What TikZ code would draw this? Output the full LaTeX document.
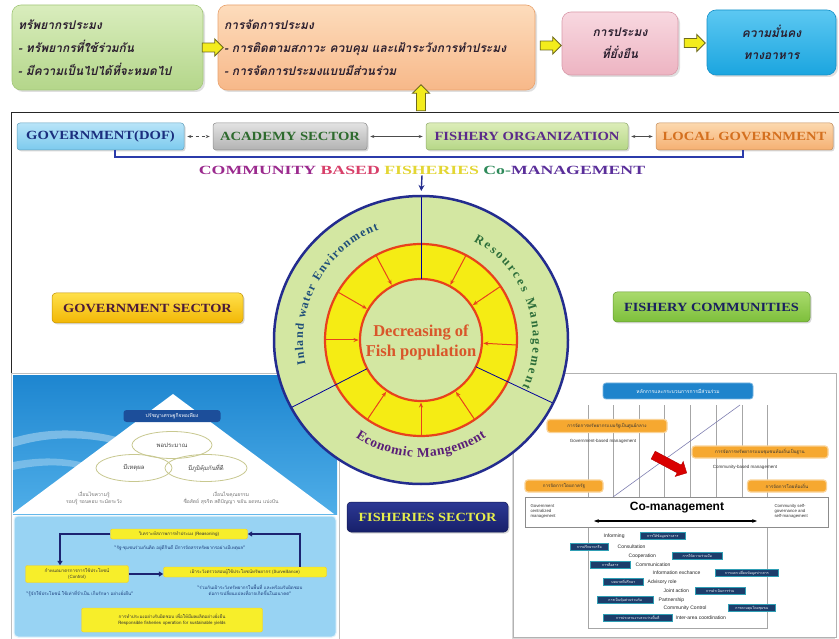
\documentclass[tikz,border=0pt]{standalone}
\usepackage{fontspec}
\setmainfont{Liberation Serif}
\newfontfamily\thai[Script=Thai]{Loma}
\newfontfamily\thaisl[Script=Thai,FakeSlant=0.22]{Loma}
\newfontfamily\lsans{Liberation Sans}
\usetikzlibrary{shapes.geometric,shapes.arrows,arrows.meta,shadows,decorations.text,calc}
\definecolor{bAt}{HTML}{D9EDBD}\definecolor{bAb}{HTML}{B4D68A}\definecolor{bAd}{HTML}{A3C77A}
\definecolor{bBt}{HTML}{FDDCBC}\definecolor{bBb}{HTML}{F7B889}\definecolor{bBd}{HTML}{E9A26D}
\definecolor{bCt}{HTML}{F8D8E0}\definecolor{bCb}{HTML}{EDB4C2}\definecolor{bCd}{HTML}{D99AAA}
\definecolor{bDt}{HTML}{5CC8F2}\definecolor{bDb}{HTML}{1BA5DF}\definecolor{bDd}{HTML}{1590C8}
\definecolor{tdark}{HTML}{2A1E2E}
\definecolor{ayel}{HTML}{F3EC1C}\definecolor{aedge}{HTML}{6E6A1E}
\definecolor{sAt}{HTML}{B8E4F8}\definecolor{sAb}{HTML}{7CCAEE}\definecolor{sAx}{HTML}{1B2F7E}
\definecolor{sBt}{HTML}{E2E2E2}\definecolor{sBb}{HTML}{B2B2B2}\definecolor{sBx}{HTML}{2E6B2E}
\definecolor{sCt}{HTML}{DCEDB8}\definecolor{sCb}{HTML}{B6D787}\definecolor{sCx}{HTML}{5B2A8A}
\definecolor{sDt}{HTML}{FCD8AE}\definecolor{sDb}{HTML}{F5B072}\definecolor{sDx}{HTML}{D4701F}
\definecolor{brblue}{HTML}{2B3BAA}\definecolor{navy}{HTML}{232C8E}
\definecolor{cA}{HTML}{9B2A8E}\definecolor{cB}{HTML}{D8406A}\definecolor{cC}{HTML}{E3D634}\definecolor{cD}{HTML}{2E8A5A}\definecolor{cE}{HTML}{5A2E9A}
\definecolor{cgreen}{HTML}{D3E7A2}\definecolor{ringy}{HTML}{F5EC14}\definecolor{ringr}{HTML}{E8421C}
\definecolor{envc}{HTML}{1F4E79}\definecolor{resc}{HTML}{2D6E3A}\definecolor{ecoc}{HTML}{5A1E78}\definecolor{ctr}{HTML}{D9562A}
\definecolor{gyt}{HTML}{FFE04A}\definecolor{gyb}{HTML}{F2B705}\definecolor{gyx}{HTML}{4A1A3A}
\definecolor{fct}{HTML}{A9DA6C}\definecolor{fcb}{HTML}{7DBF3B}\definecolor{fcx}{HTML}{1A2060}
\definecolor{fst}{HTML}{2C3894}\definecolor{fsb}{HTML}{17206A}\definecolor{fsx}{HTML}{E6EE4C}
\definecolor{lpA}{HTML}{1E86D0}\definecolor{lpB}{HTML}{4FAEE8}\definecolor{lpl}{HTML}{98D3F3}
\definecolor{dlbl}{HTML}{1C4E9A}\definecolor{olv}{HTML}{C8C890}\definecolor{ylw}{HTML}{F7EE2A}
\definecolor{qtx}{HTML}{1A3A7A}\definecolor{rpt}{HTML}{1F84CC}\definecolor{orl}{HTML}{F6A830}
\definecolor{dlab}{HTML}{1C3D6B}\definecolor{dlabd}{HTML}{2F9FB5}
\begin{document}
\begin{tikzpicture}[x=1pt,y=1pt,
  topbox/.style={rounded corners=9pt, line width=0.6pt, inner sep=6pt,
     drop shadow={opacity=0.25,shadow xshift=2pt,shadow yshift=-2pt}},
  yarrow/.style={single arrow, draw=aedge, fill=ayel, line width=0.9pt, minimum height=21pt,
     minimum width=17pt, inner sep=4pt, single arrow head extend=4pt},
  secbox/.style={rounded corners=3pt, line width=0.5pt, minimum height=27pt, inner sep=2pt,
     font=\bfseries\fontsize{12.5}{12}\selectfont,
     drop shadow={opacity=0.3,shadow xshift=1.5pt,shadow yshift=-1.5pt}},
  lblbox/.style={rounded corners=4pt, line width=0.5pt, minimum height=30pt, inner sep=2pt,
     font=\bfseries\fontsize{12.5}{13}\selectfont,
     drop shadow={opacity=0.3,shadow xshift=1.5pt,shadow yshift=-1.5pt}},
  dbl/.style={{Stealth[length=4pt]}-{Stealth[length=4pt]}, line width=0.8pt, black!70, shorten >=3pt, shorten <=3pt},
  ylbl/.style={fill=ylw, draw=ylw!70!orange, rounded corners=2pt, font=\thai\fontsize{4.5}{6}\selectfont,
     text=black!80, inner sep=1.5pt, align=center},
  qt/.style={font=\thai\fontsize{4.5}{6}\selectfont, text=qtx, align=center},
  narr/.style={-{Triangle[length=4.5pt,width=5pt]}, line width=1.4pt, navy!80!black},
  olbl/.style={fill=orl, draw=orl!50!white, line width=1.2pt, rounded corners=3pt,
     font=\thai\fontsize{4.5}{5}\selectfont, text=black!80, inner sep=1.5pt},
  dlb/.style={fill=dlab, draw=dlabd, line width=0.6pt, text=white, font=\thai\fontsize{3.5}{4}\selectfont,
     inner sep=0.8pt, minimum height=6.5pt, anchor=west},
  wtx/.style={font=\lsans\fontsize{5}{5}\selectfont, text=black!85, anchor=west, inner sep=0.5pt},
  gridl/.style={black!35, line width=0.5pt},
  redarr/.style={-{Stealth[length=5pt,width=4pt]}, ringr, line width=1pt},
  divl/.style={blue!60!black, line width=0.8pt}
]
\useasboundingbox (0,0) rectangle (839,-639);
\fill[white] (0,0) rectangle (839,-639);

% ---------- top row ----------
\node[topbox, draw=bAd, top color=bAt, bottom color=bAb, text width=179pt, minimum height=85pt,
  align=left, text=tdark, font=\thaisl\bfseries\fontsize{12}{23}\selectfont] (b1) at (107.5,-47.5)
  {ทรัพยากรประมง\\- ทรัพยากรที่ใช้ร่วมกัน\\- มีความเป็นไปได้ที่จะหมดไป};
\node[topbox, draw=bBd, top color=bBt, bottom color=bBb, text width=305pt, minimum height=85pt,
  align=left, text=tdark, font=\thaisl\bfseries\fontsize{12}{23}\selectfont] (b2) at (376.5,-47.5)
  {การจัดการประมง\\- การติดตามสภาวะ ควบคุม และเฝ้าระวังการทำประมง\\- การจัดการประมงแบบมีส่วนร่วม};
\node[topbox, draw=bCd, top color=bCt, bottom color=bCb, minimum width=116pt, minimum height=63pt,
  align=center, text=tdark, font=\thaisl\bfseries\fontsize{12}{22}\selectfont] (b3) at (620,-43.5)
  {การประมง\\ที่ยั่งยืน};
\node[topbox, draw=bDd, top color=bDt, bottom color=bDb, minimum width=129pt, minimum height=65pt,
  align=center, text=tdark, font=\thaisl\bfseries\fontsize{12}{22}\selectfont] (b4) at (771.5,-42.5)
  {ความมั่นคง\\ทางอาหาร};
\node[yarrow] (a1) at ($(b1.east)!0.5!(b2.west)$) {};
\node[yarrow] (a2) at ($(b2.east)!0.5!(b3.west)$) {};
\node[yarrow] (a3) at ($(b3.east)!0.5!(b4.west)$) {};

% ---------- frame ----------
\coordinate (fR) at (839,-113);
\coordinate (fTL) at (11,-113);
\coordinate (fB) at (11,-639);
\draw[line width=1pt, black!85] (fR) -- (fTL) -- (fB);
\node[yarrow, rotate=90, minimum height=26pt] (a4) at (421,-100) {};

% ---------- sector row ----------
\node[secbox, draw=sAb!80!black, top color=sAt, bottom color=sAb, text=sAx, minimum width=167pt] (s1) at (100.5,-136.5) {\scalebox{1.17}[1]{GOVERNMENT(DOF)}};
\node[secbox, draw=sBb!80!black, top color=sBt, bottom color=sBb, text=sBx, minimum width=154pt] (s2) at (290,-136.5) {\scalebox{1.17}[1]{ACADEMY SECTOR}};
\node[secbox, draw=sCb!80!black, top color=sCt, bottom color=sCb, text=sCx, minimum width=202pt] (s3) at (527,-136.5) {\scalebox{1.17}[1]{FISHERY ORGANIZATION}};
\node[secbox, draw=sDb!80!black, top color=sDt, bottom color=sDb, text=sDx, minimum width=177pt] (s4) at (744.5,-136.5) {\scalebox{1.17}[1]{LOCAL GOVERNMENT}};
\draw[dbl, dashed] (s1.east) -- (s2.west);
\draw[dbl] (s2.east) -- (s3.west);
\draw[dbl] (s3.east) -- (s4.west);
\coordinate (brL) at (115,-150);
\coordinate (brR) at (743,-150);
\draw[brblue, line width=2.8pt] (brL) -- ++(0,-7) -| (brR);
\node[inner sep=1pt] (cbf) at (422,-170) {\scalebox{1.42}[1]{\fontsize{12.5}{12}\selectfont\bfseries
  \color{cA}COMMUNITY \color{cB}BASED \color{cC}FISHERIES \color{cD}Co-\color{cE}MANAGEMENT}};

% ---------- left bottom panel ----------
\draw[black!25, fill=white, line width=0.6pt] (11,-373) rectangle (339,-639);
\shade[top color=lpA, bottom color=lpB] (13,-376) rectangle (337,-514);
\fill[white, opacity=0.35] (13,-438) .. controls (60,-424) and (110,-430) .. (160,-452) -- (160,-458) .. controls (110,-437) and (60,-432) .. (13,-447) -- cycle;
\fill[white, opacity=0.3] (13,-462) .. controls (50,-455) and (80,-458) .. (120,-475) -- (120,-480) .. controls (80,-464) and (50,-462) .. (13,-470) -- cycle;
\fill[white] (173,-394) -- (334,-514) -- (12,-514) -- cycle;
\node[fill=dlbl, rounded corners=3pt, text=white, font=\thai\fontsize{5}{6}\selectfont, minimum width=97pt,
  minimum height=12pt, inner sep=1pt] (phil) at (172,-416) {ปรัชญาเศรษฐกิจพอเพียง};
\node[ellipse, draw=olv, line width=0.8pt, minimum width=80pt, minimum height=27pt, text=black!75,
  font=\thai\fontsize{6}{7}\selectfont] (e1) at (172,-445) {พอประมาณ};
\node[ellipse, draw=olv, line width=0.8pt, minimum width=76pt, minimum height=27pt, text=black!75,
  font=\thai\fontsize{6}{7}\selectfont] (e2) at (134,-468) {มีเหตุผล};
\node[ellipse, draw=olv, line width=0.8pt, minimum width=82pt, minimum height=27pt, text=black!75,
  font=\thai\fontsize{6}{7}\selectfont] (e3) at (206,-468) {มีภูมิคุ้มกันที่ดี};
\node[font=\thai\fontsize{5}{7}\selectfont, text=black!55, align=center] (k1) at (94,-498)
  {เงื่อนไขความรู้\\รอบรู้ รอบคอบ ระมัดระวัง};
\node[font=\thai\fontsize{5}{7}\selectfont, text=black!55, align=center] (k2) at (231,-498)
  {เงื่อนไขคุณธรรม\\ซื่อสัตย์ สุจริต สติปัญญา ขยัน อดทน แบ่งปัน};
\draw[rounded corners=4pt, fill=lpl, draw=white!70!lpl, line width=1pt] (14,-516) rectangle (336,-637);
\node[ylbl, minimum width=137pt, minimum height=10pt] (y1) at (179,-534) {วิเคราะห์สภาพการทำประมง (Reasoning)};
\node[qt] (q1) at (180,-548) {“รัฐ-ชุมชนร่วมกันคิด อยู่ดีกินดี มีการจัดสรรทรัพยากรอย่างมีเหตุผล”};
\node[ylbl, minimum width=103pt, minimum height=17pt] (y2) at (77,-574) {กำหนดมาตรการการใช้ประโยชน์\\(Control)};
\node[qt] (q2) at (80,-594) {“รู้จักใช้ประโยชน์ ใช้เท่าที่จำเป็น เก็บรักษา อย่างยั่งยืน”};
\node[ylbl, minimum width=163pt, minimum height=10pt] (y3) at (245,-572) {เฝ้าระวังตรวจสอบผู้ใช้ประโยชน์ทรัพยากร (Surveillance)};
\node[qt] (q3) at (250,-590) {“ร่วมกันเฝ้าระวังทรัพยากรในพื้นที่ และพร้อมรับผิดชอบ\\ต่อการเปลี่ยนแปลงที่อาจเกิดขึ้นในอนาคต”};
\node[ylbl, minimum width=181pt, minimum height=24pt] (y4) at (172,-620)
  {การทำประมงอย่างรับผิดชอบ เพื่อให้มีผลผลิตอย่างยั่งยืน\\Responsible fisheries operation for sustainable yields};
\draw[narr] (y1.west) -| ([xshift=-17pt]y2.north);
\draw[narr] ([xshift=55pt]y3.north) |- (y1.east);
\draw[narr] (y2.east) -- (y2.east -| y3.west);

% ---------- right bottom panel ----------
\draw[black!30, fill=white, line width=0.6pt, drop shadow={opacity=0.3,shadow xshift=-1.5pt,shadow yshift=-1.5pt}] (513,-373) rectangle (836,-637);
\node[fill=rpt, draw=rpt!60!white, line width=0.8pt, rounded corners=3pt, text=white, font=\thai\fontsize{5}{6}\selectfont,
  minimum width=150pt, minimum height=16pt, inner sep=1pt] (rp0) at (678,-391) {หลักการและกระบวนการการมีส่วนร่วม};
\foreach \gx in {613,639,664,690,716,742} \draw[gridl] (\gx,-405) -- (\gx,-497);
\coordinate (gTL) at (588,-405); \coordinate (gTR) at (767,-405);
\draw[gridl] (gTL) -- (588,-628) -- (767,-628) -- (gTR);
\coordinate (dgA) at (613,-497); \coordinate (dgB) at (740,-405);
\draw[blue!40!black!50, line width=0.6pt] (dgA) -- (dgB);
\node[olbl, minimum width=120pt, minimum height=13pt] (o1) at (607,-426) {การจัดการทรัพยากรแบบรัฐเป็นศูนย์กลาง};
\node[font=\lsans\fontsize{4.5}{5}\selectfont, text=black!80] (gbm) at (603,-441) {Government-based management};
\node[olbl, minimum width=136pt, minimum height=12pt] (o2) at (760,-452) {การจัดการทรัพยากรแบบชุมชนท้องถิ่นเป็นฐาน};
\node[font=\lsans\fontsize{4.5}{5}\selectfont, text=black!80] (cbm) at (745,-467) {Community-based management};
\node[olbl, minimum width=78pt, minimum height=12pt] (o3) at (564,-486) {การจัดการโดยภาครัฐ};
\node[olbl, minimum width=79pt, minimum height=12pt] (o4) at (787,-486) {การจัดการโดยท้องถิ่น};
\node[single arrow, fill=red!85!black, draw=red!70!black, rotate=-28, minimum height=38pt, minimum width=17pt,
  inner sep=3pt, single arrow head extend=3pt] (ra) at (668,-463) {};
\node[draw=black!45, fill=white, line width=0.6pt, minimum width=303pt, minimum height=30pt] (cobox) at (676.5,-512) {};
\node[font=\lsans\bfseries\fontsize{12}{12}\selectfont] (cot) at (677,-508) {Co-management};
\node[font=\lsans\fontsize{4.3}{5}\selectfont, align=left, anchor=west, text=black!80] (gcm) at (527,-511) {Government\\centralized\\management};
\node[font=\lsans\fontsize{4.3}{5}\selectfont, align=left, anchor=west, text=black!80] (csg) at (771,-511) {Community self-\\governance and\\self-management};
\coordinate (dl) at (594,-521); \coordinate (dr) at (757,-521);
\draw[{Stealth[length=5pt]}-{Stealth[length=5pt]}, line width=1.3pt] (dl) -- (dr);
\node[wtx] (w1) at (603,-536) {Informing};
\node[dlb, minimum width=45pt] (l1) at (640,-536) {การให้ข้อมูลข่าวสาร};
\node[dlb, minimum width=38pt] (l2) at (570,-547) {การปรึกษาหารือ};
\node[wtx] (w2) at (617,-547) {Consultation};
\node[wtx] (w3) at (628,-556) {Cooperation};
\node[dlb, minimum width=50pt] (l3) at (672,-556) {การให้ความร่วมมือ};
\node[dlb, minimum width=40pt] (l4) at (590,-565) {การสื่อสาร};
\node[wtx] (w4) at (635,-565) {Communication};
\node[wtx] (w5) at (652,-573) {Information exchance};
\node[dlb, minimum width=63pt] (l5) at (715,-573) {การแลกเปลี่ยนข้อมูลข่าวสาร};
\node[dlb, minimum width=40pt] (l6) at (603,-582) {บทบาทที่ปรึกษา};
\node[wtx] (w6) at (647,-582) {Advisory role};
\node[wtx] (w7) at (663,-591) {Joint action};
\node[dlb, minimum width=50pt] (l7) at (695,-591) {การดำเนินการร่วม};
\node[dlb, minimum width=56pt] (l8) at (597,-600) {การเป็นหุ้นส่วนร่วมกัน};
\node[wtx] (w8) at (658,-600) {Partnership};
\node[wtx] (w9) at (663,-608) {Community Control};
\node[dlb, minimum width=47pt] (l9) at (728,-608) {การควบคุมโดยชุมชน};
\node[dlb, minimum width=69pt] (l10) at (603,-618) {การประสานงานระหว่างพื้นที่};
\node[wtx] (w10) at (675,-618) {Inter-area coordination};

% ---------- circle ----------
\coordinate (C) at (421,-340);
\coordinate (ctop) at (421,-196);
\fill[cgreen] (C) ellipse [x radius=147pt, y radius=144pt];
\fill[ringy, even odd rule] (C) circle[radius=96pt] (C) circle[radius=61pt];
\foreach \a in {118,150,180,236,270,304,-3,34,62}
  \draw[redarr] ($(C)+(\a:95pt)$) -- ($(C)+(\a:62.5pt)$);
\draw[ringr, line width=2.2pt] (C) circle[radius=96pt] (C) circle[radius=61pt];
\foreach \a in {90,208,-26}
  \draw[divl] ($(C)+(\a:61pt)$) -- ($(C)+(\a:147pt and 144pt)$);
\draw[navy, line width=2.5pt] (C) ellipse [x radius=147pt, y radius=144pt];
\draw[-{Stealth[length=6pt,width=6pt]}, navy, line width=1.4pt, shorten >=5pt] (cbf.south) -- (ctop);
\node[font=\bfseries\fontsize{16.5}{20}\selectfont, text=ctr, align=center] (dec) at (421,-342) {Decreasing of\\Fish population};
\path[decorate, decoration={text along path, text align={fit to path},
  text={|\bfseries\fontsize{12}{12}\selectfont\color{envc}|Inland water Environment}}]
  ($(C)+(192:118pt)$) arc[start angle=192, end angle=111, radius=118pt];
\path[decorate, decoration={text along path, text align={fit to path},
  text={|\bfseries\fontsize{12.5}{12}\selectfont\color{resc}|Resources Management}}]
  ($(C)+(62:112pt)$) arc[start angle=62, end angle=-25, radius=112pt];
\path[decorate, decoration={text along path, text align={fit to path},
  text={|\bfseries\fontsize{13.5}{12}\selectfont\color{ecoc}|Economic Mangement}}]
  ($(C)+(236:117pt)$) arc[start angle=236, end angle=304, radius=117pt];

% ---------- sector labels ----------
\node[lblbox, draw=gyb!80!black, top color=gyt, bottom color=gyb, text=gyx, minimum width=191pt] (gs) at (147.5,-308) {\scalebox{1.15}[1]{GOVERNMENT SECTOR}};
\node[lblbox, draw=fcb!80!black, top color=fct, bottom color=fcb, text=fcx, minimum width=197pt] (fc) at (711.5,-307) {\scalebox{1.15}[1]{FISHERY COMMUNITIES}};
\node[lblbox, draw=fsb!80!black, top color=fst, bottom color=fsb, text=fsx, minimum width=161pt] (fs) at (427.5,-517) {\scalebox{1.14}[1]{FISHERIES SECTOR}};
\end{tikzpicture}
\end{document}
